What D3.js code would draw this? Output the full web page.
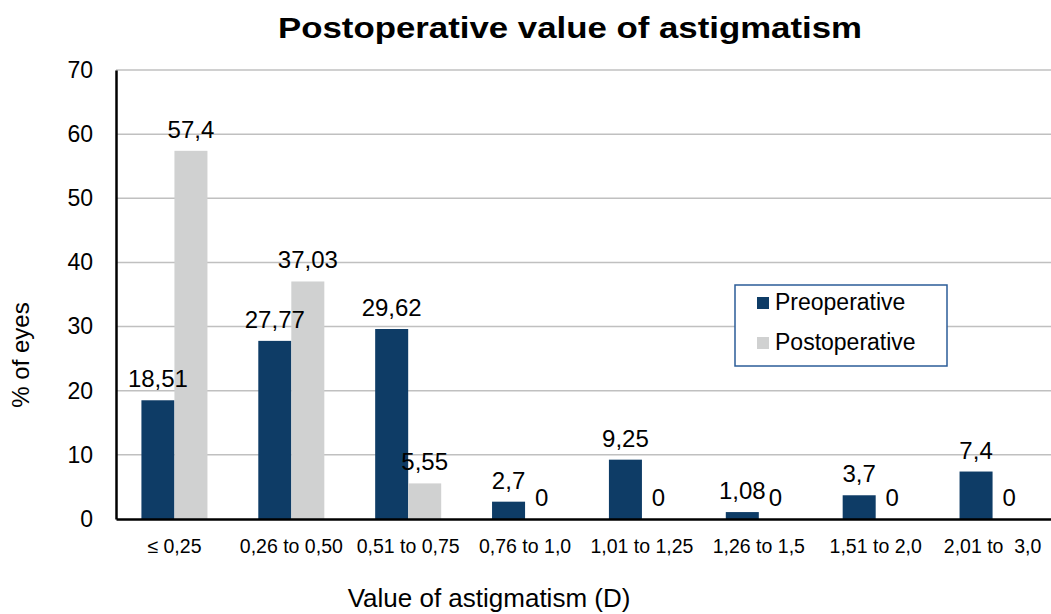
<!DOCTYPE html>
<html>
<head>
<meta charset="utf-8">
<script src="https://cdn.jsdelivr.net/npm/d3@7"></script>
<style>
  body { margin: 0; background: #fff; }
  text { font-family: "Liberation Sans", Arial, sans-serif; fill: #000; white-space: pre; }
</style>
</head>
<body>
<svg id="chart" width="1051" height="614"></svg>
<script>
// chart data
const categories = ['≤ 0,25', '0,26 to 0,50', '0,51 to 0,75', '0,76 to 1,0',
                    '1,01 to 1,25', '1,26 to 1,5', '1,51 to 2,0', '2,01 to  3,0'];
const preoperative = [18.51, 27.77, 29.62, 2.7, 9.25, 1.08, 3.7, 7.4];
const postoperative = [57.4, 37.03, 5.55, 0, 0, 0, 0, 0];
const preLabels = ['18,51', '27,77', '29,62', '2,7', '9,25', '1,08', '3,7', '7,4'];
const postLabels = ['57,4', '37,03', '5,55', '0', '0', '0', '0', '0'];
const seriesNames = ['Preoperative', 'Postoperative'];
const yTicks = [0, 10, 20, 30, 40, 50, 60, 70];

const colors = ['#0e3c66', '#d0d1d1'];

const svg = d3.select('#chart');
const margin = {left: 116, right: 0, top: 70, bottom: 95};
const width = 1051, height = 614;

const x = d3.scaleBand()
    .domain(categories)
    .range([margin.left, width - margin.right]);
const sub = d3.scaleBand()
    .domain(seriesNames)
    .range([0, x.bandwidth()])
    .paddingInner(0)
    .paddingOuter(0.77);
const y = d3.scaleLinear()
    .domain([0, 70])
    .range([height - margin.bottom, margin.top]);

// gridlines
svg.append('g')
    .selectAll('line')
    .data(yTicks.slice(1))
    .enter()
    .append('line')
    .attr('x1', margin.left)
    .attr('x2', width)
    .attr('y1', d => y(d))
    .attr('y2', d => y(d))
    .attr('stroke', '#c0c0c0')
    .attr('stroke-width', 1.5);

// y axis
const yAxis = svg.append('g')
    .attr('transform', `translate(${margin.left},0)`)
    .call(d3.axisLeft(y).tickValues(yTicks).tickSize(0).tickPadding(23));
yAxis.select('.domain').attr('stroke', '#000').attr('stroke-width', 2.5);
yAxis.selectAll('text')
    .style('font-size', '23px')
    .attr('font-family', null);

// bars
const data = categories.map((c, i) => ({
  cat: c,
  values: [
    {name: seriesNames[0], value: preoperative[i], label: preLabels[i]},
    {name: seriesNames[1], value: postoperative[i], label: postLabels[i]}
  ]
}));

const groups = svg.append('g')
    .selectAll('g')
    .data(data)
    .enter()
    .append('g')
    .attr('transform', d => `translate(${x(d.cat)},0)`);

groups.selectAll('rect')
    .data(d => d.values)
    .enter()
    .append('rect')
    .attr('x', d => sub(d.name))
    .attr('width', sub.bandwidth())
    .attr('y', d => y(d.value))
    .attr('height', d => y(0) - y(d.value))
    .attr('fill', (d, i) => colors[i]);

groups.selectAll('text')
    .data(d => d.values)
    .enter()
    .append('text')
    .attr('x', d => sub(d.name) + sub.bandwidth() / 2)
    .attr('y', d => y(d.value) - 13)
    .attr('text-anchor', 'middle')
    .style('font-size', '24px')
    .text(d => d.label);

// x axis
const xAxis = svg.append('g')
    .attr('transform', `translate(0,${y(0)})`)
    .call(d3.axisBottom(x).tickSize(0).tickPadding(20));
xAxis.select('.domain').attr('stroke', '#000').attr('stroke-width', 2.5);
xAxis.selectAll('text')
    .style('font-size', '19.5px')
    .attr('font-family', null)
    .attr('dy', '0.71em');

// title
svg.append('text')
    .attr('x', 570)
    .attr('y', 38)
    .attr('text-anchor', 'middle')
    .attr('textLength', 584)
    .attr('lengthAdjust', 'spacingAndGlyphs')
    .style('font-size', '30px')
    .style('font-weight', 'bold')
    .text('Postoperative value of astigmatism');

// axis titles
svg.append('text')
    .attr('x', 489)
    .attr('y', 607)
    .attr('text-anchor', 'middle')
    .style('font-size', '26px')
    .text('Value of astigmatism (D)');

svg.append('text')
    .attr('transform', 'translate(29,355) rotate(-90)')
    .attr('text-anchor', 'middle')
    .style('font-size', '24px')
    .text('% of eyes');

// legend
const legend = svg.append('g').attr('transform', 'translate(735,285)');
legend.append('rect')
    .attr('width', 212)
    .attr('height', 81)
    .attr('fill', '#fff')
    .attr('stroke', '#2b5c98')
    .attr('stroke-width', 1.5);
const items = legend.selectAll('g')
    .data(seriesNames)
    .enter()
    .append('g')
    .attr('transform', (d, i) => `translate(22,${12 + i * 40})`);
items.append('rect')
    .attr('width', 12)
    .attr('height', 12)
    .attr('fill', (d, i) => colors[i]);
items.append('text')
    .attr('x', 18)
    .attr('y', 13)
    .style('font-size', '23px')
    .text(d => d);
</script>
</body>
</html>
